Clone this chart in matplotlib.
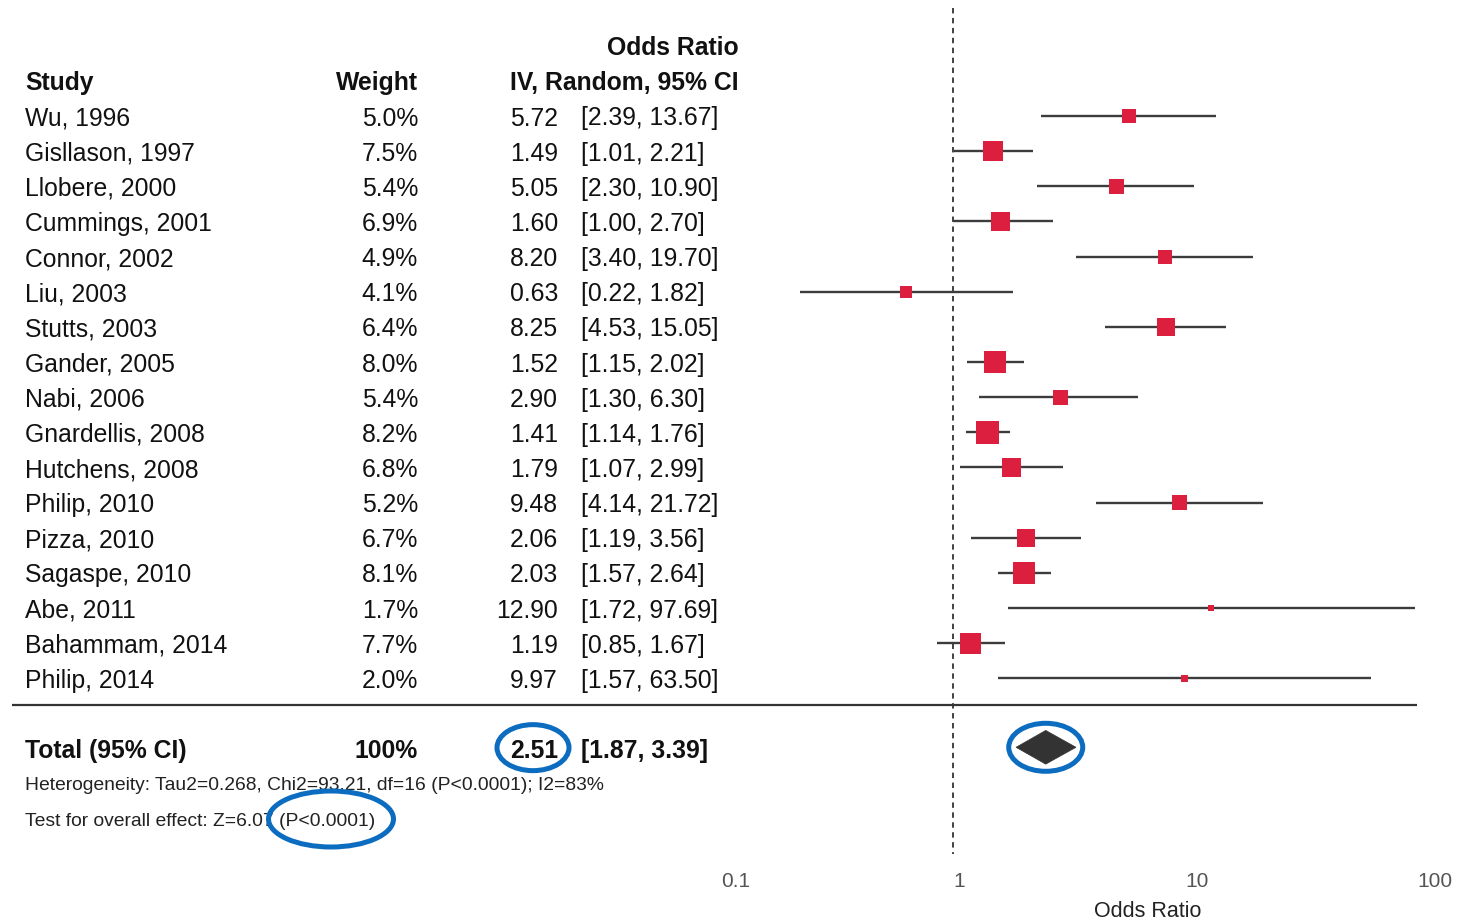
import matplotlib
matplotlib.use('Agg')
import matplotlib.pyplot as plt
from matplotlib.patches import Ellipse, Polygon
from matplotlib.transforms import ScaledTranslation, blended_transform_factory

# ---------------- data ----------------
studies = ["Wu, 1996", "Gisllason, 1997", "Llobere, 2000", "Cummings, 2001", "Connor, 2002",
           "Liu, 2003", "Stutts, 2003", "Gander, 2005", "Nabi, 2006", "Gnardellis, 2008",
           "Hutchens, 2008", "Philip, 2010", "Pizza, 2010", "Sagaspe, 2010", "Abe, 2011",
           "Bahammam, 2014", "Philip, 2014"]
weights = [5.0, 7.5, 5.4, 6.9, 4.9, 4.1, 6.4, 8.0, 5.4, 8.2, 6.8, 5.2, 6.7, 8.1, 1.7, 7.7, 2.0]
odds = [5.72, 1.49, 5.05, 1.60, 8.20, 0.63, 8.25, 1.52, 2.90, 1.41, 1.79, 9.48, 2.06, 2.03,
        12.90, 1.19, 9.97]
ci_low = [2.39, 1.01, 2.30, 1.00, 3.40, 0.22, 4.53, 1.15, 1.30, 1.14, 1.07, 4.14, 1.19, 1.57,
          1.72, 0.85, 1.57]
ci_high = [13.67, 2.21, 10.90, 2.70, 19.70, 1.82, 15.05, 2.02, 6.30, 1.76, 2.99, 21.72, 3.56,
           2.64, 97.69, 1.67, 63.50]
total_label = "Total (95% CI)"
total_weight = "100%"
total_or = 2.51
total_low = 1.87
total_high = 3.39
heterogeneity = "Heterogeneity: Tau2=0.268, Chi2=93.21, df=16 (P<0.0001); I2=83%"
overall_test = "Test for overall effect: Z=6.07 (P<0.0001)"
tick_values = [0.1, 1, 10, 100]
tick_labels = ["0.1", "1", "10", "100"]
x_label = "Odds Ratio"

# ---------------- style ----------------
FONT = ['Liberation Sans', 'DejaVu Sans']
plt.rcParams['font.family'] = FONT
W, H = 1458, 922
PX_DEC = 232.0      # pixels per decade
X_ONE = 953.0       # pixel position of OR = 1
ROW0 = 116.0        # pixel of first study row
ROW_H = 35.15       # row height in pixels
SQ_COLOR = '#DC1E3F'
LINE_COLOR = '#3c3c3c'
BLUE = '#0C6CC0'
FS = 17.8
FS_SMALL = 13.85
VA = 'center_baseline'

fig = plt.figure(figsize=(W / 100, H / 100), dpi=100)
ax = fig.add_axes([0, 0, 1, 1])
ax.set_xscale('log')
ax.set_xlim(10 ** (-X_ONE / PX_DEC), 10 ** ((W - X_ONE) / PX_DEC))
ax.set_ylim((H - ROW0) / ROW_H, -ROW0 / ROW_H)
ax.axis('off')

tr = blended_transform_factory(ax.transAxes, ax.transData)


def fx(px):
    return px / W


rows = list(range(len(studies)))
total_row = len(studies) + 1
het_row = total_row + 1
test_row = total_row + 2

# headers
ax.text(fx(739), -2, "Odds Ratio", transform=tr, ha='right', va=VA, fontsize=FS,
        fontweight='bold', color='#111')
ax.text(fx(25), -1, "Study", transform=tr, ha='left', va=VA, fontsize=FS,
        fontweight='bold', color='#111')
ax.text(fx(418), -1, "Weight", transform=tr, ha='right', va=VA, fontsize=FS,
        fontweight='bold', color='#111')
ax.text(fx(739), -1, "IV, Random, 95% CI", transform=tr, ha='right', va=VA, fontsize=FS,
        fontweight='bold', color='#111')

# study rows
for r, s, w, o, lo, hi in zip(rows, studies, weights, odds, ci_low, ci_high):
    ax.text(fx(25), r, s, transform=tr, ha='left', va=VA, fontsize=FS, color='#111')
    ax.text(fx(418), r, f"{w:.1f}%", transform=tr, ha='right', va=VA, fontsize=FS,
            color='#111')
    ax.text(fx(558), r, f"{o:.2f}", transform=tr, ha='right', va=VA, fontsize=FS,
            color='#111')
    ax.text(fx(581), r, f"[{lo:.2f}, {hi:.2f}]", transform=tr, ha='left', va=VA,
            fontsize=FS, color='#111')

# CI lines and squares
ax.hlines(rows, ci_low, ci_high, color=LINE_COLOR, lw=1.7, zorder=2)
sides_pt = [(1.5 + 2.55 * w) * 0.72 for w in weights]
ax.scatter(odds, rows, s=[sd ** 2 for sd in sides_pt], marker='s', color=SQ_COLOR,
           linewidths=0, zorder=3)

# reference line at OR = 1
ax.vlines(1, -3.07, 21.0, colors='#333333', linestyles=(0, (3, 2.5)), lw=1.3, zorder=1)

# separator
x_left = ax.transData.inverted().transform(ax.transAxes.transform((fx(12), 0)))[0]
ax.plot([x_left, tick_values[-1]], [total_row - 1.23, total_row - 1.23], color='#333333',
        lw=1.6, solid_capstyle='butt')

# total row
ax.text(fx(25), total_row, total_label, transform=tr, ha='left', va=VA, fontsize=FS,
        fontweight='bold', color='#111')
ax.text(fx(418), total_row, total_weight, transform=tr, ha='right', va=VA, fontsize=FS,
        fontweight='bold', color='#111')
ax.text(fx(558), total_row, f"{total_or:.2f}", transform=tr, ha='right', va=VA,
        fontsize=FS, fontweight='bold', color='#111')
ax.text(fx(581), total_row, f"[{total_low:.2f}, {total_high:.2f}]", transform=tr, ha='left',
        va=VA, fontsize=FS, fontweight='bold', color='#111')
dh = 0.48
ax.add_patch(Polygon([(total_low, total_row - 0.04), (total_or, total_row - 0.04 - dh),
                      (total_high, total_row - 0.04), (total_or, total_row - 0.04 + dh)],
                     closed=True, facecolor='#333333', edgecolor='#333333', lw=0.5, zorder=3))

ax.text(fx(25), het_row, heterogeneity, transform=tr, ha='left', va=VA,
        fontsize=FS_SMALL, color='#222')
ax.text(fx(25), test_row, overall_test, transform=tr, ha='left', va=VA,
        fontsize=FS_SMALL, color='#222')

# tick labels
tick_row = 21.71
for v, lab in zip(tick_values, tick_labels):
    ax.text(v, tick_row, lab, ha='left', va=VA, fontsize=15, color='#555555')
ax.text(fx(1148), 22.56, x_label, transform=tr, ha='center', va=VA, fontsize=15.5,
        color='#222')


# highlight ellipses
def ring(x, y, trans, w_px, h_px):
    e = Ellipse((0, 0), w_px / 100, h_px / 100, fill=False, edgecolor=BLUE, lw=3.6,
                transform=fig.dpi_scale_trans + ScaledTranslation(x, y, trans), zorder=5)
    ax.add_patch(e)


ring(fx(533), total_row - 0.03, tr, 72, 46)
ring(fx(331), test_row, tr, 125, 56)
ring(total_or, total_row - 0.04, ax.transData, 74, 48)

fig.savefig('out.png', dpi=100)
